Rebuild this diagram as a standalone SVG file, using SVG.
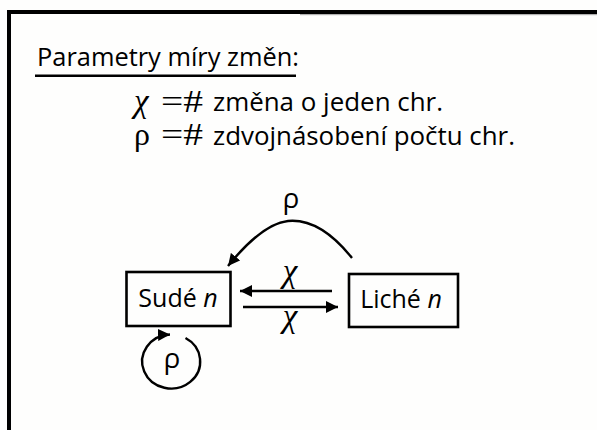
<svg xmlns="http://www.w3.org/2000/svg" width="597" height="430" viewBox="0 0 597 430">
  <defs>
    <style>
      .sans { font-family: "Open Sans", "Noto Sans", sans-serif; fill: #000; }
      .serif { font-family: "Liberation Serif", "DejaVu Serif", serif; fill: #000; }
      .box { fill: none; stroke: #000; stroke-width: 2.6; }
      .conn { fill: none; stroke: #000; stroke-width: 2.4; }
    </style>
    <marker id="ah" markerUnits="userSpaceOnUse" markerWidth="14" markerHeight="12" refX="12" refY="6" orient="auto">
      <path d="M0,0 L12,6 L0,12 Z" fill="#000"/>
    </marker>
  </defs>
  <rect x="0" y="0" width="597" height="430" fill="#fefefd"/>
  <!-- frame -->
  <rect x="7" y="10" width="590" height="4" fill="#000"/>
  <rect x="7" y="10" width="4" height="420" fill="#000"/>
  <rect x="300" y="14" width="297" height="1.2" fill="#b0b0b0"/>

  <!-- title -->
  <text class="sans" x="37" y="66" font-size="25" textLength="262" lengthAdjust="spacingAndGlyphs">Parametry míry změn:</text>
  <rect x="35" y="74.5" width="261" height="2.5" fill="#000"/>

  <!-- legend -->
  <text class="serif" x="134" y="112" font-size="33" font-style="italic">χ</text>
  <text class="serif" x="161" y="112" font-size="31" textLength="42" lengthAdjust="spacingAndGlyphs">=#</text>
  <text class="sans" x="213" y="111" font-size="26" textLength="230" lengthAdjust="spacingAndGlyphs">změna o jeden chr.</text>
  <text class="serif" x="134" y="145" font-size="32">ρ</text>
  <text class="serif" x="161" y="145" font-size="31" textLength="42" lengthAdjust="spacingAndGlyphs">=#</text>
  <text class="sans" x="213" y="145" font-size="26" textLength="302" lengthAdjust="spacingAndGlyphs">zdvojnásobení počtu chr.</text>

  <!-- nodes -->
  <g id="sude">
    <rect class="box" x="126.5" y="272" width="104" height="54"/>
    <text class="sans" x="178" y="307" font-size="25" text-anchor="middle">Sudé <tspan font-style="italic">n</tspan></text>
  </g>
  <g id="liche">
    <rect class="box" x="349" y="274" width="109" height="53"/>
    <text class="sans" x="401" y="308" font-size="25" text-anchor="middle">Liché <tspan font-style="italic">n</tspan></text>
  </g>

  <!-- connectors -->
  <g id="connectors">
    <path class="conn" d="M332,291 L240,291" marker-end="url(#ah)"/>
    <path class="conn" d="M243,307 L338,307" marker-end="url(#ah)"/>
    <path class="conn" d="M352,258 Q320,218 288,221 Q262,224 228,266" marker-end="url(#ah)"/>
    <path class="conn" d="M185.5,338 A29,27 0 1 1 170,334.5" marker-end="url(#ah)"/>
    <text class="serif" x="290" y="282" font-size="33" font-style="italic" text-anchor="middle">χ</text>
    <text class="serif" x="290" y="327" font-size="33" font-style="italic" text-anchor="middle">χ</text>
    <text class="sans" x="291" y="208" font-size="28" text-anchor="middle">ρ</text>
    <text class="sans" x="172" y="368" font-size="28" text-anchor="middle">ρ</text>
  </g>
</svg>
